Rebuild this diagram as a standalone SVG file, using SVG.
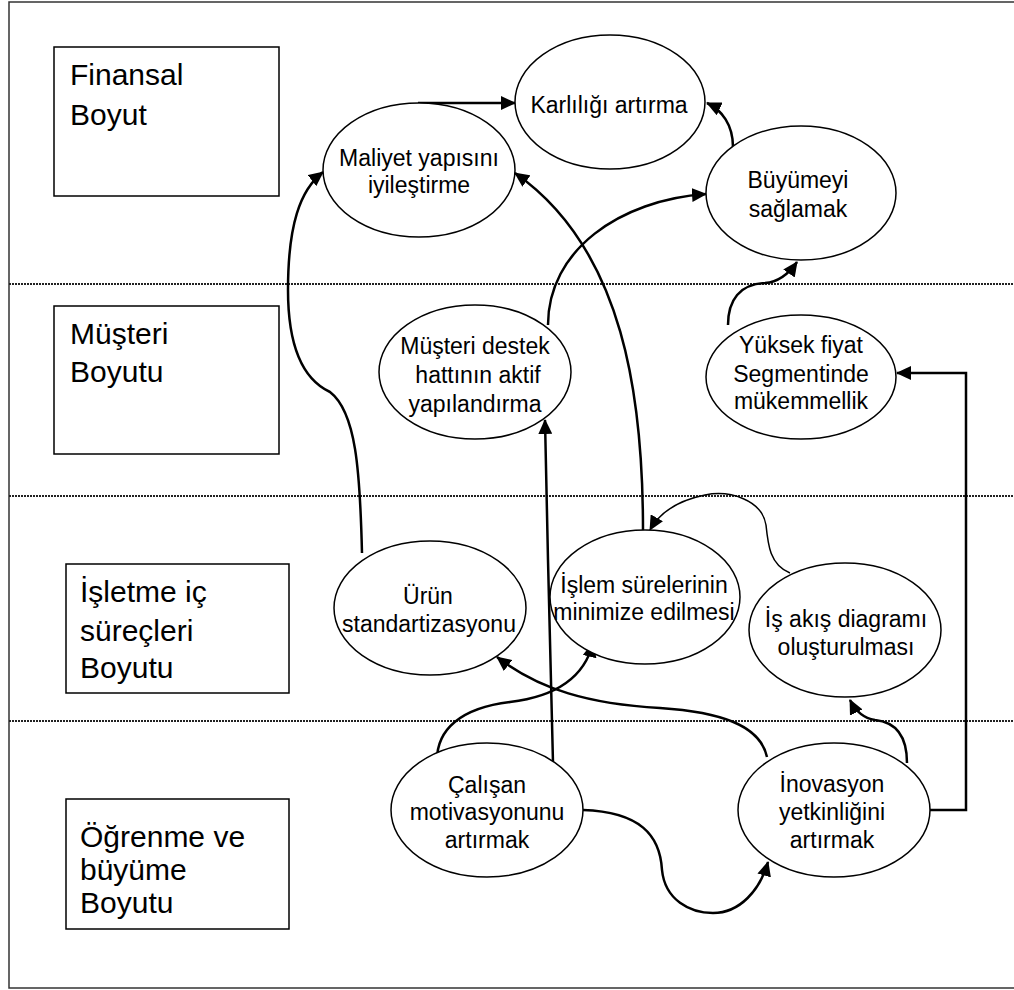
<svg xmlns="http://www.w3.org/2000/svg" width="1014" height="990" viewBox="0 0 1014 990">
<style>
.frame{fill:none;stroke:#333;stroke-width:1.5}
.sep{stroke:#222;stroke-width:2.2;stroke-dasharray:2 1}
.lbox{fill:#fff;stroke:#000;stroke-width:1.5}
.ltxt{font-family:"Liberation Sans",Arial,sans-serif;font-size:30px;fill:#000}
.node{fill:#fff;stroke:#000;stroke-width:1.5}
.ntxt{font-family:"Liberation Sans",Arial,sans-serif;font-size:23px;fill:#000;text-anchor:middle}
.c{fill:none;stroke:#000;stroke-width:2.5;marker-end:url(#ah)}
.thin{stroke-width:1.5}
</style>
<defs>
<marker id="ah" markerUnits="userSpaceOnUse" markerWidth="16" markerHeight="14" refX="14" refY="7" orient="auto">
<path d="M0,0 L15,7 L0,14 Z" fill="#000"/>
</marker>
</defs>
<rect width="1014" height="990" fill="#fff"/>
<rect class="frame" x="9" y="2" width="1010" height="986"/>
<g id="separators">
<line class="sep" x1="9" y1="284" x2="1014" y2="284"/>
<line class="sep" x1="9" y1="496" x2="1014" y2="496"/>
<line class="sep" x1="9" y1="721" x2="1014" y2="721"/>
</g>
<g id="label-finansal">
<rect class="lbox" x="54" y="47" width="225" height="149"/>
<text class="ltxt" x="70" y="85">Finansal</text>
<text class="ltxt" x="70" y="125">Boyut</text>
</g>
<g id="label-musteri">
<rect class="lbox" x="54" y="306" width="225" height="148"/>
<text class="ltxt" x="70" y="344">Müşteri</text>
<text class="ltxt" x="70" y="382">Boyutu</text>
</g>
<g id="label-isletme">
<rect class="lbox" x="66" y="564" width="223" height="129"/>
<text class="ltxt" x="80" y="602">İşletme iç</text>
<text class="ltxt" x="80" y="641">süreçleri</text>
<text class="ltxt" x="80" y="678">Boyutu</text>
</g>
<g id="label-ogrenme">
<rect class="lbox" x="66" y="799" width="223" height="130"/>
<text class="ltxt" x="80" y="847">Öğrenme ve</text>
<text class="ltxt" x="80" y="880">büyüme</text>
<text class="ltxt" x="80" y="913">Boyutu</text>
</g>
<g id="connectors">
<path class="c" d="M418,103 L515,103"/>
<path class="c" d="M733,147 C733,125 722,110 707,103"/>
<path class="c" d="M548,325 C548,250 620,200 706,194"/>
<path class="c" d="M728,325 C728,300 740,284 765,283 C780,282 790,272 797,262"/>
<path class="c" d="M930,810 L966,810 L966,373 L897,373"/>
<path class="c" d="M362,553 C360,470 356,412 330,392 C300,378 288,340 288,290 C288,225 300,190 323,172"/>
<path class="c" d="M643,530 C643,400 625,250 515,173"/>
<path class="c thin" d="M790,573 C770,565 768,545 766,525 C762,500 730,490 705,495 C680,500 660,512 650,530"/>
<path class="c" d="M437,760 C437,730 460,708 510,702 C560,696 585,675 593,643"/>
<path class="c" d="M553,763 L548,560 L545,420"/>
<path class="c" d="M767,757 C760,725 720,712 660,708 C590,704 540,690 497,657"/>
<path class="c" d="M583,810 C640,812 660,835 662,870 C665,900 690,913 713,913 C740,913 760,890 768,862"/>
<path class="c" d="M907,763 C907,735 895,722 875,720 C862,718 855,710 850,700"/>
</g>
<g id="node-karlilik">
<ellipse class="node" cx="610" cy="102" rx="95" ry="67"/>
<text class="ntxt" x="609" y="113">Karlılığı artırma</text>
</g>
<g id="node-maliyet">
<ellipse class="node" cx="419" cy="170" rx="96" ry="67"/>
<text class="ntxt" x="419" y="166">Maliyet yapısını</text>
<text class="ntxt" x="419" y="193">iyileştirme</text>
</g>
<g id="node-buyume">
<ellipse class="node" cx="801" cy="193" rx="95" ry="67"/>
<text class="ntxt" x="798" y="188">Büyümeyi</text>
<text class="ntxt" x="798" y="217">sağlamak</text>
</g>
<g id="node-yuksek">
<ellipse class="node" cx="801" cy="377" rx="95" ry="62"/>
<text class="ntxt" x="801" y="353">Yüksek fiyat</text>
<text class="ntxt" x="801" y="382">Segmentinde</text>
<text class="ntxt" x="801" y="409">mükemmellik</text>
</g>
<g id="node-destek">
<ellipse class="node" cx="475" cy="372" rx="96" ry="67"/>
<text class="ntxt" x="475" y="354">Müşteri destek</text>
<text class="ntxt" x="478" y="383">hattının aktif</text>
<text class="ntxt" x="475" y="412">yapılandırma</text>
</g>
<g id="node-urun">
<ellipse class="node" cx="430" cy="608" rx="96" ry="67"/>
<text class="ntxt" x="428" y="604">Ürün</text>
<text class="ntxt" x="429" y="632">standartizasyonu</text>
</g>
<g id="node-islem">
<ellipse class="node" cx="645" cy="597" rx="95" ry="67"/>
<text class="ntxt" x="644" y="593">İşlem sürelerinin</text>
<text class="ntxt" x="644" y="620">minimize edilmesi</text>
</g>
<g id="node-isakis">
<ellipse class="node" cx="845" cy="630" rx="96" ry="67"/>
<text class="ntxt" x="846" y="627">İş akış diagramı</text>
<text class="ntxt" x="846" y="655">oluşturulması</text>
</g>
<g id="node-calisan">
<ellipse class="node" cx="487" cy="810" rx="96" ry="67"/>
<text class="ntxt" x="487" y="793">Çalışan</text>
<text class="ntxt" x="487" y="820">motivasyonunu</text>
<text class="ntxt" x="487" y="848">artırmak</text>
</g>
<g id="node-inovasyon">
<ellipse class="node" cx="834" cy="810" rx="96" ry="67"/>
<text class="ntxt" x="832" y="792">İnovasyon</text>
<text class="ntxt" x="832" y="820">yetkinliğini</text>
<text class="ntxt" x="832" y="848">artırmak</text>
</g>
</svg>
